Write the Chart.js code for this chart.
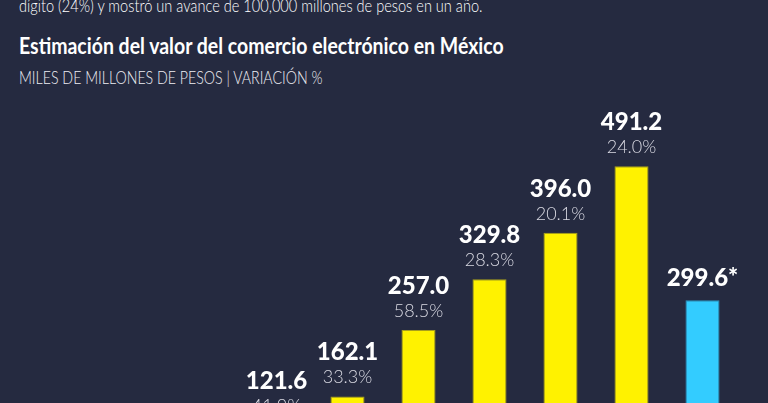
<!DOCTYPE html>
<html>
<head>
<meta charset="utf-8">
<script src="https://cdn.jsdelivr.net/npm/chart.js@4"></script>
<style>
    html, body { margin: 0; padding: 0; background: #252a40; overflow: hidden; }
    #wrap { position: relative; width: 768px; height: 403px; overflow: hidden; }
    .txt { position: absolute; left: 19px; color: #ffffff; white-space: nowrap; font-family: "Lato", sans-serif; transform-origin: left top; }
    #lead { top: -6px; font-size: 18px; font-weight: 300; transform: scaleX(0.81); }
    #title { top: 31px; font-size: 23px; font-weight: 700; transform: scaleX(0.847); }
    #sub { top: 66px; font-size: 18px; font-weight: 300; color: #eeeef4; transform: scaleX(0.787); }
    #chartBox { position: absolute; left: 0; top: 0; width: 768px; height: 540px; }
</style>
</head>
<body>
<div id="wrap">
    <div class="txt" id="lead">dígito (24%) y mostró un avance de 100,000 millones de pesos en un año.</div>
    <div class="txt" id="title">Estimación del valor del comercio electrónico en México</div>
    <div class="txt" id="sub">MILES DE MILLONES DE PESOS | VARIACIÓN %</div>
    <div id="chartBox"><canvas id="ecomChart" width="768" height="540"></canvas></div>
</div>
<script>
let years = ["2012", "2013", "2014", "2015", "2016", "2017", "2018", "2019*"];
let values = [85.7, 121.6, 162.1, 257.0, 329.8, 396.0, 491.2, 299.6];
let valueLabels = ["85.7", "121.6", "162.1", "257.0", "329.8", "396.0", "491.2", "299.6*"];
let changes = ["", "41.9%", "33.3%", "58.5%", "28.3%", "20.1%", "24.0%", ""];
let barColors = ["#fff200", "#fff200", "#fff200", "#fff200", "#fff200", "#fff200", "#fff200", "#33ccff"];
let borderColors = ["#a89f1c", "#a89f1c", "#a89f1c", "#a89f1c", "#a89f1c", "#a89f1c", "#a89f1c", "#2a93c0"];

// value + change written above every bar
const barLabels = {
    id: "barLabels",
    afterDatasetsDraw(chart) {
        const ctx = chart.ctx;
        const bars = chart.getDatasetMeta(0).data;
        ctx.save();
        ctx.textAlign = "center";
        ctx.textBaseline = "middle";
        bars.forEach((bar, i) => {
            let gap = changes[i] ? 44 : 22;
            ctx.fillStyle = "#ffffff";
            ctx.font = "900 24px Lato, sans-serif";
            ctx.fillText(valueLabels[i], bar.x, bar.y - gap);
            if (changes[i]) {
                ctx.fillStyle = "#d9d9e2";
                ctx.font = "300 18px Lato, sans-serif";
                ctx.fillText(changes[i], bar.x, bar.y - 19);
            }
        });
        ctx.restore();
    }
};

new Chart(document.getElementById("ecomChart").getContext("2d"), {
    type: "bar",
    data: {
        labels: years,
        datasets: [{
            data: values,
            backgroundColor: barColors,
            borderColor: borderColors,
            borderWidth: 1,
            barPercentage: 0.48,
            categoryPercentage: 1
        }]
    },
    options: {
        responsive: false,
        animation: false,
        layout: { padding: { left: 170, right: 30, top: 90, bottom: 30 } },
        plugins: { legend: { display: false }, tooltip: { enabled: false } },
        scales: {
            x: { display: false },
            y: { display: false, min: 0, max: 600 }
        }
    },
    plugins: [barLabels]
});
</script>
</body>
</html>
